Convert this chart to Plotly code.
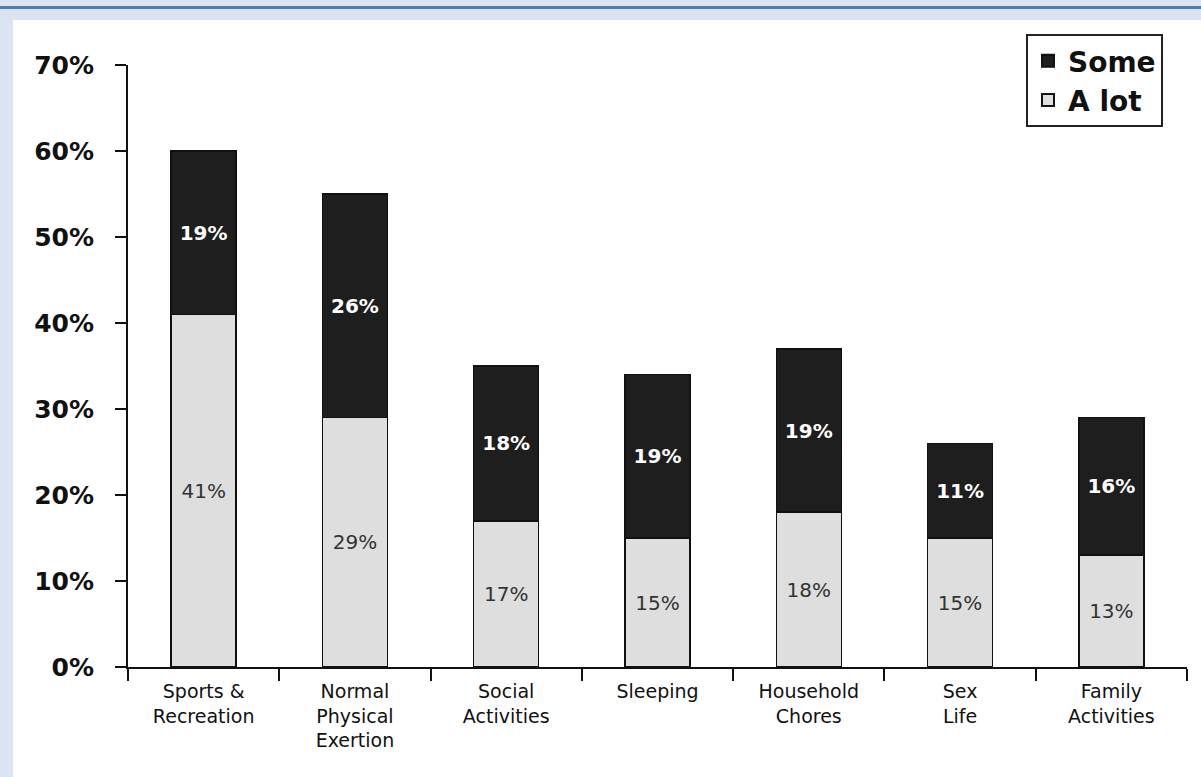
import plotly.graph_objects as go

categories = ["Sports &<br>Recreation", "Normal<br>Physical<br>Exertion", "Social<br>Activities",
              "Sleeping", "Household<br>Chores", "Sex<br>Life", "Family<br>Activities"]
a_lot = [41, 29, 17, 15, 18, 15, 13]
some = [19, 26, 18, 19, 19, 11, 16]
y_ticks = [0, 10, 20, 30, 40, 50, 60, 70]

# pixel geometry of the plot area
L, R, T, B = 128, 14, 65, 110
W, H = 1201, 777
pw, ph = W - L - R, H - T - B

def px_x(p):
    return (p - L) / pw

def px_y(p):
    return (H - B - p) / ph

fig = go.Figure()
fig.add_trace(go.Bar(
    x=categories, y=a_lot, name="A lot",
    marker=dict(color="#dedede", line=dict(color="#111111", width=1.5)),
    width=0.43,
    text=[f"{v}%" for v in a_lot], textposition="inside", insidetextanchor="middle",
    textangle=0, constraintext="none",
    textfont=dict(family="DejaVu Sans", size=20, color="#333333"),
))
fig.add_trace(go.Bar(
    x=categories, y=some, name="Some",
    marker=dict(color="#1e1e1e", line=dict(color="#111111", width=1.5)),
    width=0.43,
    text=[f"{v}%" for v in some], textposition="inside", insidetextanchor="middle",
    textangle=0, constraintext="none",
    textfont=dict(family="DejaVu Sans", size=20, color="#ffffff", weight="bold"),
))

fig.update_layout(
    width=W, height=H,
    margin=dict(l=L, r=R, t=T, b=B),
    barmode="stack",
    paper_bgcolor="#dbe4f0",
    plot_bgcolor="white",
    showlegend=True,
    legend=dict(
        x=px_x(1026), xanchor="left", y=px_y(34), yanchor="top",
        traceorder="reversed",
        bgcolor="white", bordercolor="#222222", borderwidth=2,
        font=dict(family="DejaVu Sans", size=28, color="#111111", weight="bold"),
        itemsizing="constant", itemwidth=30,
        tracegroupgap=0,
    ),
    xaxis=dict(
        type="category",
        range=[-0.5, 6.5],
        tickson="boundaries",
        ticks="outside", ticklen=12, tickwidth=2, tickcolor="#111111",
        showline=True, linecolor="#111111", linewidth=2,
        showgrid=False,
        tickfont=dict(family="DejaVu Sans", size=19, color="#111111"),
        ticklabelstandoff=6,
    ),
    yaxis=dict(
        range=[0, 70],
        tickvals=y_ticks,
        ticktext=[f"{v}%" for v in y_ticks],
        ticks="outside", ticklen=11, tickwidth=2, tickcolor="#111111",
        showline=True, linecolor="#111111", linewidth=2,
        showgrid=False, zeroline=False,
        tickfont=dict(family="DejaVu Sans", size=25, color="#111111", weight="bold"),
        ticklabelstandoff=16,
    ),
    shapes=[
        dict(type="rect", xref="paper", yref="paper",
             x0=px_x(13), x1=px_x(1215), y0=px_y(800), y1=px_y(20),
             fillcolor="white", line=dict(width=0), layer="below"),
        dict(type="line", xref="paper", yref="paper",
             x0=px_x(-10), x1=px_x(1215), y0=px_y(7.5), y1=px_y(7.5),
             line=dict(color="#4a7ebb", width=3), layer="below"),
    ],
)

fig.write_html("out.html")
